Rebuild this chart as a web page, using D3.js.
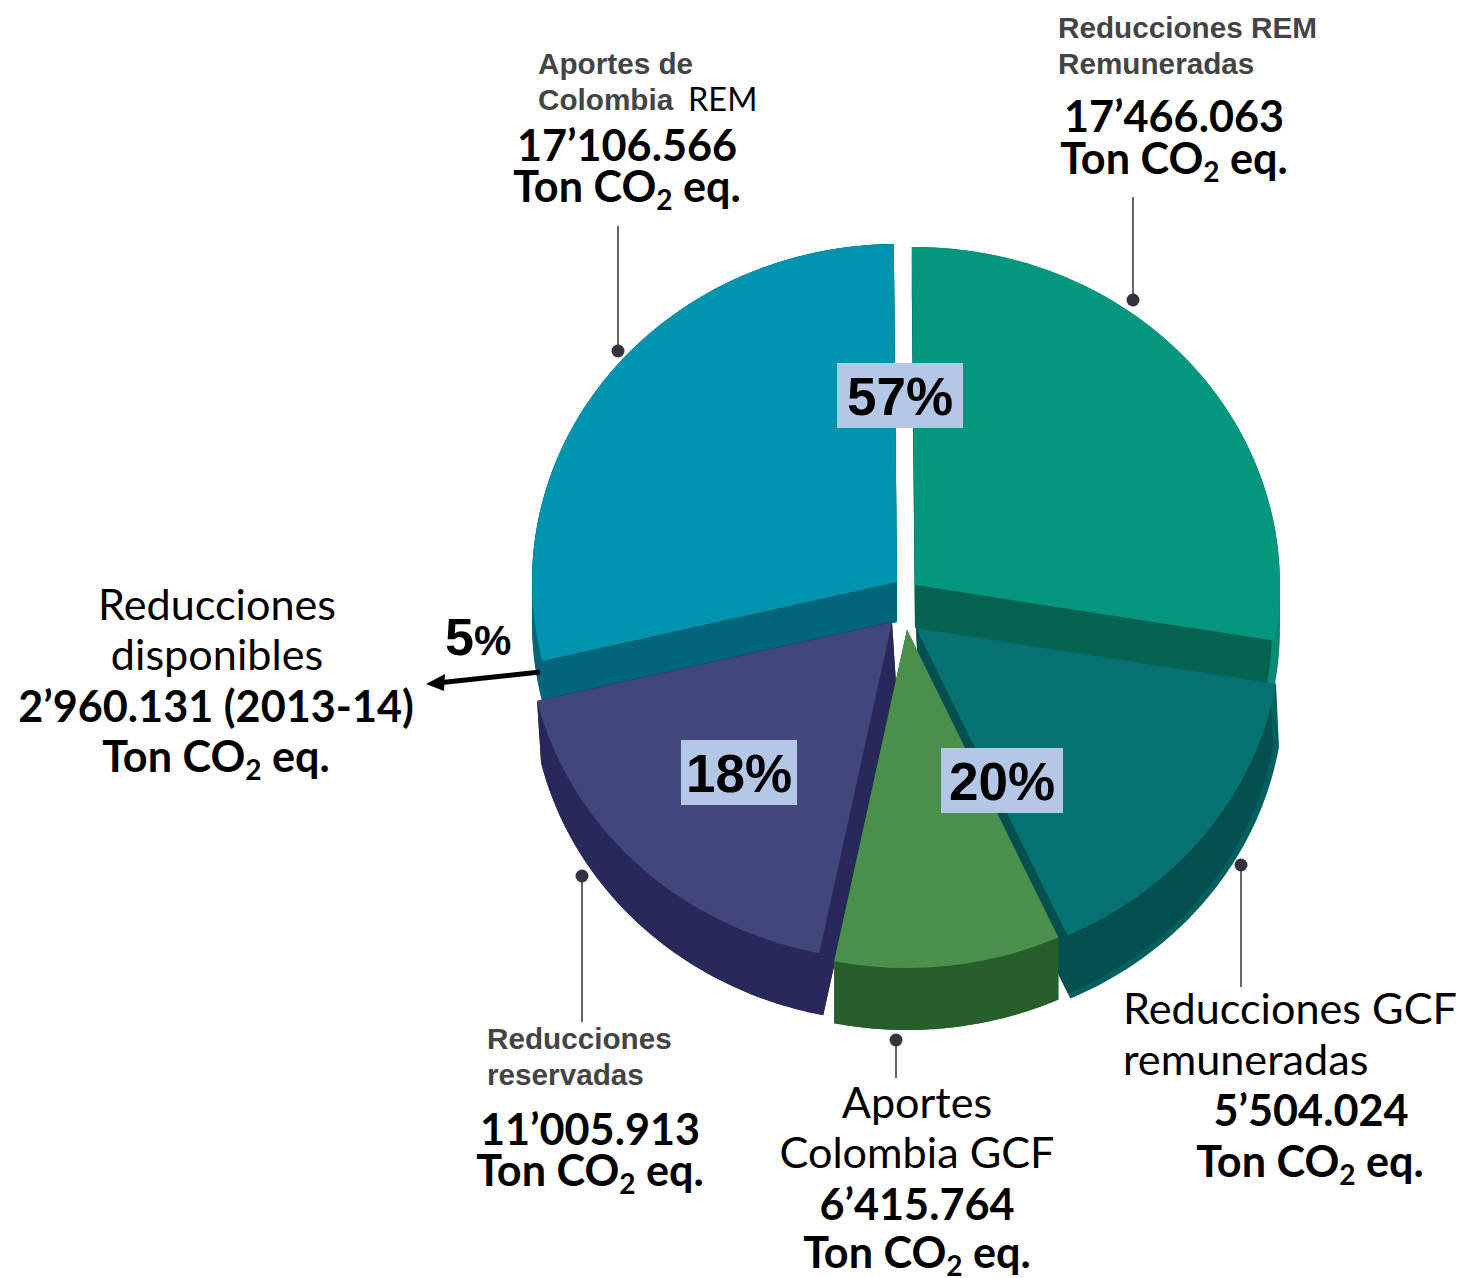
<!DOCTYPE html>
<html lang="es">
<head>
<meta charset="utf-8">
<title>Reducciones REM y GCF</title>
<script src="https://cdn.jsdelivr.net/npm/d3@7"></script>
<style>
  html, body { margin: 0; background: #fff; }
  svg { display: block; }
  .sans { font-family: Lato, "Open Sans", sans-serif; fill: #000; }
  .grey { font-family: "Liberation Sans", Arial, sans-serif; font-weight: 700; fill: #444; font-size: 29.7px; }
  .pct { font-family: "Liberation Sans", Arial, sans-serif; font-weight: 700; fill: #000; }
</style>
</head>
<body>
<div id="chart"></div>
<script>
// slices, clockwise from the top; shares are the drawn sweep (degrees)
const categories = ['Reducciones REM Remuneradas', 'Reducciones GCF remuneradas', 'Aportes Colombia GCF', 'Reducciones reservadas', 'Aportes de Colombia REM'];
const drawnShares = [100, 56, 36, 65, 103];
const tonnes = ['17’466.063', '5’504.024', '6’415.764', '11’005.913', '17’106.566'];
const available = '2’960.131 (2013-14)';
const groupShares = ['57%', '20%', '18%', '5%'];

// look of each slice, same order as categories
const faceColors = ['#05967f', '#067272', '#4a8f4c', '#41477b', '#0294ae'];
const wallColors = ['#046351', '#044f4f', '#265f2c', '#28295a', '#036579'];
const rimColors = ['#0a8a72', '#03605f', '#265f2c', '#28295a', '#036579'];
const nudgeX = [10, 11, 2, -13, -8];
const nudgeY = [-40, 3, 5, -3, -43];
const wallDepth = [43, 63, 62, 62, 40];
const wallShift = [0, 3, 0, 4, 0];
const rimWidth = [8, 6, 0, 0, 0];
const drawOrder = [0, 4, 3, 1, 2];

const width = 1459, height = 1278;
const cx = 905, cy = 625, radius = 365, squash = 0.926;

const svg = d3.select('#chart').append('svg')
  .attr('width', width).attr('height', height)
  .attr('viewBox', `0 0 ${width} ${height}`);

const pie = d3.pie().sort(null)
  .startAngle(-0.5 * Math.PI / 180)
  .endAngle(359.5 * Math.PI / 180);
const arcs = pie(drawnShares);
const arc = d3.arc().innerRadius(0).outerRadius(radius);

// side wall: hull of the squashed sector and the same sector pushed down
function wallPath(d, depth, shift, r) {
  const pts = [[0, 0], [shift, depth]];
  d3.range(0, 61).forEach(i => {
    const a = d.startAngle + (d.endAngle - d.startAngle) * i / 60;
    const p = d3.pointRadial(a, r);
    pts.push([p[0], p[1] * squash], [p[0] + shift, p[1] * squash + depth]);
  });
  return 'M' + d3.polygonHull(pts).join('L') + 'Z';
}

const slices = svg.append('g').selectAll('g')
  .data(drawOrder)
  .enter().append('g')
  .attr('transform', i => `translate(${cx + nudgeX[i]},${cy + nudgeY[i]})`);

slices.append('path')
  .attr('d', i => wallPath(arcs[i], wallDepth[i], wallShift[i], radius))
  .attr('fill', i => rimColors[i]);
slices.append('path')
  .attr('d', i => wallPath(arcs[i], wallDepth[i], wallShift[i], radius - rimWidth[i]))
  .attr('fill', i => wallColors[i]);
slices.append('path')
  .attr('d', i => arc(arcs[i]))
  .attr('transform', `scale(1,${squash})`)
  .attr('fill', i => faceColors[i]);

// percent boxes
const boxes = [
  { t: groupShares[0], x: 837, y: 363, w: 126 },
  { t: groupShares[1], x: 941, y: 748, w: 122 },
  { t: groupShares[2], x: 681, y: 740, w: 116 }
];
const box = svg.append('g').selectAll('g').data(boxes).enter().append('g');
box.append('rect')
  .attr('x', d => d.x).attr('y', d => d.y)
  .attr('width', d => d.w).attr('height', 65)
  .attr('fill', '#b4c7e7');
box.append('text')
  .attr('class', 'pct')
  .attr('x', d => d.x + d.w / 2).attr('y', d => d.y + 52)
  .attr('text-anchor', 'middle')
  .attr('font-size', 53)
  .text(d => d.t);

// 5% with its arrow
const five = svg.append('text').attr('class', 'pct').attr('x', 445).attr('y', 655).attr('font-size', 52);
five.append('tspan').text(groupShares[3].slice(0, -1));
five.append('tspan').attr('font-size', 42).text('%');
svg.append('line')
  .attr('x1', 540).attr('y1', 672).attr('x2', 442).attr('y2', 682.5)
  .attr('stroke', '#000').attr('stroke-width', 5);
svg.append('path').attr('d', 'M426,684L445,674L444,691Z').attr('fill', '#000');

// leader lines
const leaders = [[618, 226, 351], [1133, 197, 300], [582, 1022, 876], [896, 1078, 1040], [1241, 987, 865]];
const lead = svg.append('g').selectAll('g').data(leaders).enter().append('g');
lead.append('line')
  .attr('x1', d => d[0]).attr('x2', d => d[0])
  .attr('y1', d => d[1]).attr('y2', d => d[2])
  .attr('stroke', '#333').attr('stroke-width', 1.5);
lead.append('circle')
  .attr('cx', d => d[0]).attr('cy', d => d[2]).attr('r', 6.5)
  .attr('fill', '#35333d');

// text helpers
function plain(t, x, y, anchor, size) {
  return svg.append('text').attr('class', 'sans')
    .attr('x', x).attr('y', y).attr('text-anchor', anchor || 'middle')
    .attr('font-size', size || 43.2).text(t);
}
function bold(t, x, y) {
  return plain(t, x, y + 1, 'middle', 43.2).attr('font-weight', 700);
}
function tonCo2(x, y) {
  const t = svg.append('text').attr('class', 'sans').attr('x', x).attr('y', y)
    .attr('text-anchor', 'middle').attr('font-size', 43.2).attr('font-weight', 700);
  t.append('tspan').text('Ton CO');
  t.append('tspan').attr('font-size', 28).attr('dy', 8).text('2');
  t.append('tspan').attr('dy', -8).text(' eq.');
}
function grey(t, x, y) {
  svg.append('text').attr('class', 'grey').attr('x', x).attr('y', y).text(t);
}

grey('Aportes de', 538, 74);
grey('Colombia', 538, 110);
plain('REM', 688, 111, 'start', 32.5);
bold(tonnes[4], 627, 160);
tonCo2(627, 202);

grey('Reducciones REM', 1058, 38);
grey('Remuneradas', 1058, 74);
bold(tonnes[0], 1174, 131);
tonCo2(1174, 174);

plain('Reducciones', 217, 620);
plain('disponibles', 217, 670);
bold(available, 216, 721);
tonCo2(216, 772);

grey('Reducciones', 487, 1049);
grey('reservadas', 487, 1085);
bold(tonnes[3], 590, 1144);
tonCo2(590, 1186);

plain('Aportes', 917, 1118);
plain('Colombia GCF', 917, 1168);
bold(tonnes[2], 917, 1219);
tonCo2(917, 1268);

plain('Reducciones GCF', 1123, 1024, 'start');
plain('remuneradas', 1123, 1075, 'start');
bold(tonnes[1], 1311, 1125);
tonCo2(1310, 1177);
</script>
</body>
</html>
